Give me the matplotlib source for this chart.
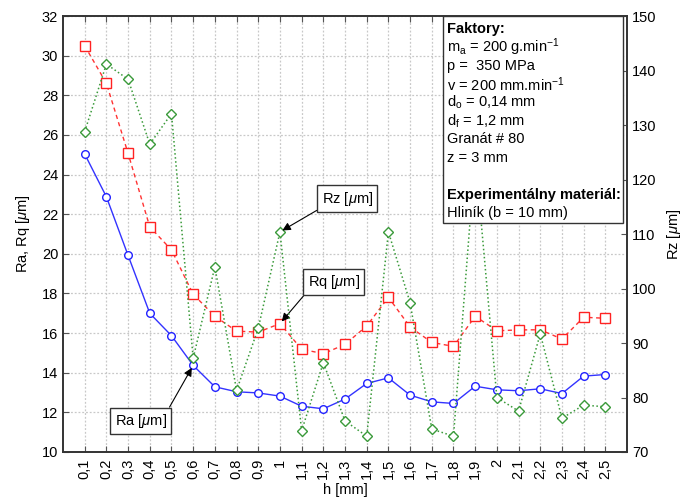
import numpy as np
from matplotlib import pyplot as plt

plt.rcParams['font.family'] = ['Liberation Sans', 'DejaVu Sans']
plt.rcParams['mathtext.fontset'] = 'custom'
plt.rcParams['mathtext.rm'] = 'Liberation Sans'
plt.rcParams['mathtext.it'] = 'Liberation Sans:italic'

h_labels = ['0,1', '0,2', '0,3', '0,4', '0,5', '0,6', '0,7', '0,8', '0,9', '1',
            '1,1', '1,2', '1,3', '1,4', '1,5', '1,6', '1,7', '1,8', '1,9', '2',
            '2,1', '2,2', '2,3', '2,4', '2,5']

ra = [25.04, 22.88, 19.92, 17.0, 15.87, 14.37, 13.29, 13.04, 12.98, 12.82,
      12.31, 12.18, 12.67, 13.46, 13.74, 12.87, 12.53, 12.45, 13.32, 13.14,
      13.09, 13.19, 12.95, 13.83, 13.91]
rq = [30.50, 28.61, 25.07, 21.36, 20.2, 17.96, 16.85, 16.10, 16.05, 16.48,
      15.19, 14.96, 15.43, 16.36, 17.81, 16.31, 15.53, 15.33, 16.85, 16.12,
      16.16, 16.17, 15.70, 16.80, 16.75]
rz = [128.8, 141.2, 138.4, 126.5, 132.1, 87.2, 104.0, 81.3, 92.7, 110.4,
      73.9, 86.4, 75.7, 72.9, 110.4, 97.4, 74.2, 72.9, 124.5, 80.0,
      77.5, 91.7, 76.2, 78.6, 78.3]

info_lines = [
    (r'Faktory:', 'bold'),
    (r'm$_\mathregular{a}$ = 200 g.min$^\mathregular{-1}$', 'normal'),
    (r'p =  350 MPa', 'normal'),
    (r'v = 200 mm.min$^\mathregular{-1}$', 'normal'),
    (r'd$_\mathregular{o}$ = 0,14 mm', 'normal'),
    (r'd$_\mathregular{f}$ = 1,2 mm', 'normal'),
    (r'Granát # 80', 'normal'),
    (r'z = 3 mm', 'normal'),
    (r'', 'normal'),
    (r'Experimentálny materiál:', 'bold'),
    (r'Hliník (b = 10 mm)', 'normal'),
]


def main():
    x = np.arange(len(h_labels))
    fig = plt.figure(figsize=(6.94, 5.04), dpi=100)
    ax = fig.add_axes([0.0908, 0.1032, 0.8127, 0.8648])
    ax2 = ax.twinx()

    ax.plot(x, ra, '-o', color='#3333ff', lw=1.0, ms=5.5, mfc='white',
            mec='#2222ff', mew=1.0, zorder=3)
    ax.plot(x, rq, '--s', color='#ff3333', lw=1.0, ms=6.5, mfc='white',
            mec='#ff2222', mew=1.0, dashes=(3, 2.5), zorder=3)
    ax2.plot(x, rz, ':D', color='#3a9a3a', lw=1.1, ms=5, mfc='white',
             mec='#3a9a3a', mew=1.0, zorder=3)

    ax.set_xlim(-1, len(h_labels))
    ax.set_ylim(10, 32)
    ax.set_yticks(np.arange(10, 33, 2))
    ax2.set_ylim(70, 150)
    ax2.set_yticks(np.arange(70, 151, 10))
    ax.set_xticks(x)
    ax.set_xticklabels(h_labels, rotation=90)

    ax.grid(True, color='#c8c8c8', ls=(0, (1.5, 1.5)), lw=0.9)
    ax.set_axisbelow(True)
    for a in (ax, ax2):
        a.tick_params(direction='in', length=4, labelsize=10.5,
                      color='#555555')
        for s in a.spines.values():
            s.set_color('#333333')
            s.set_linewidth(1.2)
    ax.tick_params(axis='x', top=True, pad=5)

    ax.set_xlabel('h [mm]', fontsize=10.5, labelpad=3)
    ax.set_ylabel(r'Ra, Rq [$\mathit{\mu}$m]', fontsize=10.5, labelpad=7)
    ax2.set_ylabel(r'Rz [$\mathit{\mu}$m]', fontsize=10.5, labelpad=6)

    box = dict(boxstyle='square,pad=0.3', fc='white', ec='#333333', lw=1.0)

    def arrow(rp):
        return dict(arrowstyle='-|>', color='black', lw=0.8, relpos=rp,
                    mutation_scale=12, shrinkA=0, shrinkB=2)

    ax.annotate(r'Ra [$\mathit{\mu}$m]', xy=(x[5], ra[5]), xytext=(-19, -40),
                textcoords='offset points', ha='right', va='center',
                fontsize=10.5, bbox=box, arrowprops=arrow((1, 1)), zorder=6)
    ax.annotate(r'Rq [$\mathit{\mu}$m]', xy=(x[9], rq[9]), xytext=(20, 30),
                textcoords='offset points', ha='left', va='center',
                fontsize=10.5, bbox=box, arrowprops=arrow((0, 0)), zorder=6)
    ax2.annotate(r'Rz [$\mathit{\mu}$m]', xy=(x[9], rz[9]), xytext=(30, 24),
                 textcoords='offset points', ha='left', va='center',
                 fontsize=10.5, bbox=box, arrowprops=arrow((0, 0)), zorder=6)

    # info box in upper right corner
    bx0, by0 = 443 / 694, 1 - 223 / 504
    fig.patches.append(plt.Rectangle((bx0, by0), 623 / 694 - bx0,
                                     1 - 16 / 504 - by0,
                                     transform=fig.transFigure, fc='white',
                                     ec='#333333', lw=1.0, zorder=10))
    ypos = 29
    for txt, w in info_lines:
        if txt:
            fig.text(447 / 694, 1 - ypos / 504, txt, fontsize=10.5,
                     fontweight=w, va='center', ha='left', zorder=11)
        ypos += 18.4

    fig.savefig('out.png', dpi=100)


if __name__ == '__main__':
    main()
